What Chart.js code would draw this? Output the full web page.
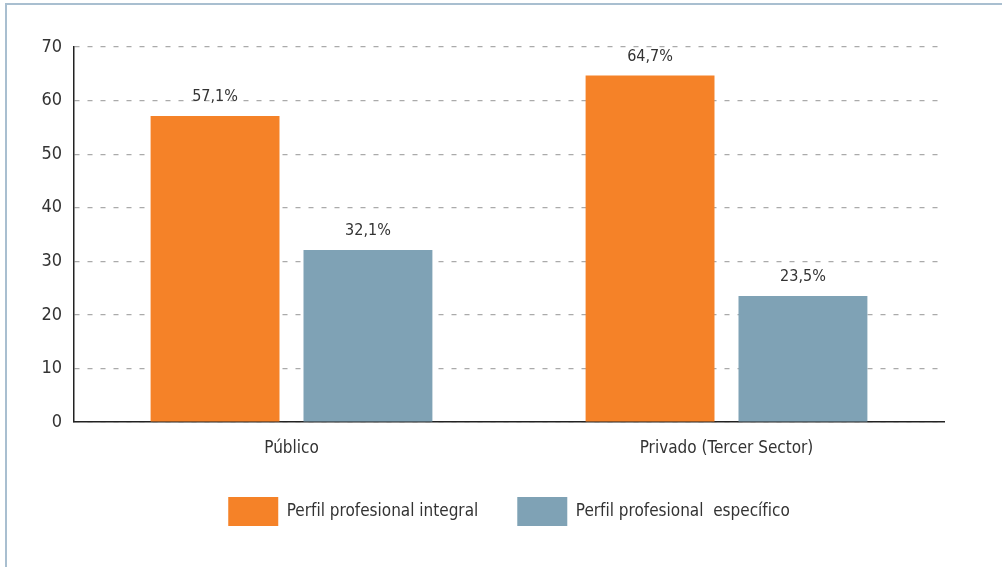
<!DOCTYPE html>
<html lang="es">
<head>
  <meta charset="UTF-8" />
  <title>Perfil profesional por sector</title>
  <script src="https://cdn.jsdelivr.net/npm/chart.js"></script>
  <style>
    body {
      margin: 0;
      background: #fff;
      font-family: "Liberation Sans Narrow", "DejaVu Sans Condensed", sans-serif;
    }
    .frame {
      position: absolute;
      left: 5px;
      top: 3px;
      width: 1100px;
      height: 700px;
      border-left: 2px solid #a9bfd0;
      border-top: 2px solid #a9bfd0;
    }
    .wrap {
      position: absolute;
      left: 0;
      top: 0;
      width: 1002px;
      height: 567px;
    }
  </style>
</head>
<body>
  <div class="frame"></div>
  <div class="wrap">
    <canvas id="chart" width="1002" height="567"></canvas>
  </div>

  <script>
    const categories = ['Público', 'Privado (Tercer Sector)'];
    const integral = [57.1, 64.7];
    const especifico = [32.1, 23.5];
    const seriesNames = ['Perfil profesional integral', 'Perfil profesional  específico'];
    const yTicks = [0, 10, 20, 30, 40, 50, 60, 70];

    const font = '"Liberation Sans Narrow", "DejaVu Sans Condensed", sans-serif';

    // labels like "57,1%" above each bar
    const valueLabels = {
      id: 'valueLabels',
      afterDatasetsDraw(chart) {
        const ctx = chart.ctx;
        ctx.save();
        ctx.font = '16px ' + font;
        ctx.fillStyle = '#333';
        ctx.textAlign = 'center';
        ctx.textBaseline = 'middle';
        chart.data.datasets.forEach((ds, i) => {
          chart.getDatasetMeta(i).data.forEach((bar, j) => {
            const txt = ds.data[j].toFixed(1).replace('.', ',') + '%';
            ctx.fillText(txt, bar.x, bar.y - 19);
          });
        });
        ctx.restore();
      }
    };

    new Chart(document.getElementById('chart'), {
      type: 'bar',
      data: {
        labels: categories,
        datasets: [
          { label: seriesNames[0], data: integral, backgroundColor: '#f58228' },
          { label: seriesNames[1], data: especifico, backgroundColor: '#7fa2b5' }
        ]
      },
      options: {
        responsive: false,
        animation: false,
        layout: { padding: { left: 0, right: 58, top: 47, bottom: 31 } },
        datasets: {
          bar: { categoryPercentage: 0.703, barPercentage: 0.843 }
        },
        plugins: {
          legend: {
            position: 'bottom',
            fullSize: false,
            labels: {
              boxWidth: 50,
              boxHeight: 29,
              padding: 39,
              color: '#333',
              font: { family: font, size: 17 }
            }
          },
          tooltip: { enabled: false }
        },
        scales: {
          x: {
            grid: { display: false },
            border: { display: true, color: '#222', width: 1.5 },
            ticks: {
              color: '#333',
              padding: 8,
              font: { family: font, size: 17 }
            },
            afterFit(scale) { scale.height = 36; }
          },
          y: {
            min: 0,
            max: 70,
            afterBuildTicks(scale) { scale.ticks = yTicks.map(v => ({ value: v })); },
            afterFit(scale) { scale.width = 74; },
            grid: {
              color: '#aaa',
              drawTicks: false,
              lineWidth: 1.2
            },
            border: { display: true, color: '#222', width: 1.5, dash: [5, 8] },
            ticks: {
              color: '#333',
              padding: 12,
              font: { family: font, size: 18 }
            }
          }
        }
      },
      plugins: [valueLabels]
    });
  </script>
</body>
</html>
